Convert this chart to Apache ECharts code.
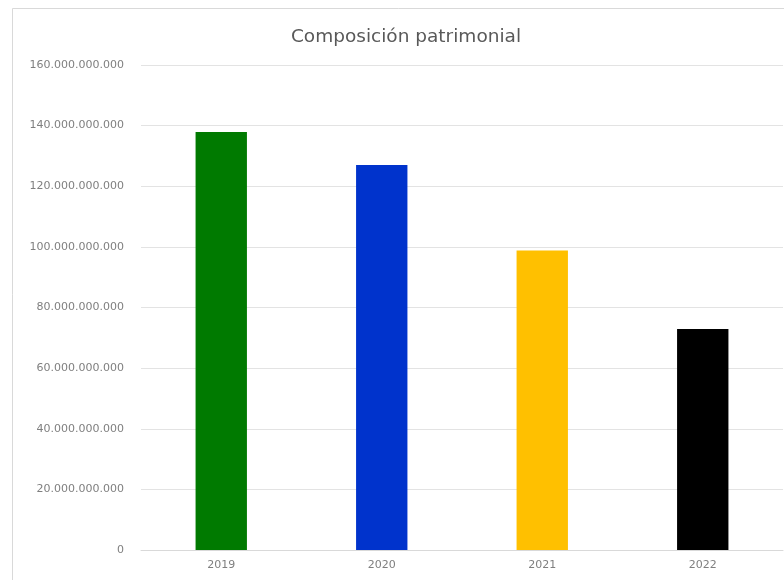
<!DOCTYPE html>
<html>
<head>
<meta charset="utf-8">
<script src="https://cdn.jsdelivr.net/npm/echarts@6/dist/echarts.min.js"></script>
<style>
html,body{margin:0;padding:0;background:#fff;}
#chart{width:784px;height:580px;}
</style>
</head>
<body>
<div id="chart"></div>
<script>
const titleText = "Composición patrimonial";
const categories = ["2019", "2020", "2021", "2022"];
const values = [137900000000, 127000000000, 98800000000, 72900000000];
const barColors = ["#007A00", "#0033CC", "#FFC000", "#000000"];
const yMax = 160000000000;
const yStep = 20000000000;

function fmt(v) {
  return String(Math.round(v)).replace(/\B(?=(\d{3})+(?!\d))/g, ".");
}

const chart = echarts.init(document.getElementById("chart"));
chart.setOption({
  backgroundColor: "#ffffff",
  animation: false,
  graphic: [{
    type: "rect",
    shape: { x: 12.5, y: 8.5, width: 800, height: 600 },
    style: { fill: "none", stroke: "#d9d9d9", lineWidth: 1 },
    silent: true
  }],
  title: {
    text: titleText,
    left: 401,
    top: 23,
    textAlign: "center",
    textStyle: { fontFamily: "DejaVu Sans", fontSize: 18.5, fontWeight: "normal", color: "#595959" }
  },
  grid: { left: 141, right: 1, top: 65, bottom: 30, containLabel: false },
  xAxis: {
    type: "category",
    data: categories,
    axisLine: { show: true, lineStyle: { color: "#d9d9d9", width: 1 } },
    axisTick: { show: false },
    axisLabel: { fontFamily: "DejaVu Sans", fontSize: 11, color: "#7f7f7f", margin: 10 }
  },
  yAxis: {
    type: "value",
    min: 0,
    max: yMax,
    interval: yStep,
    axisLine: { show: false },
    axisTick: { show: false },
    splitLine: { lineStyle: { color: "#e3e3e3", width: 1 } },
    axisLabel: {
      fontFamily: "DejaVu Sans", fontSize: 11, color: "#7f7f7f", margin: 17,
      formatter: fmt
    }
  },
  series: [{
    type: "bar",
    barWidth: "32%",
    data: values.map((v, i) => ({ value: v, itemStyle: { color: barColors[i] } }))
  }]
});
</script>
</body>
</html>
